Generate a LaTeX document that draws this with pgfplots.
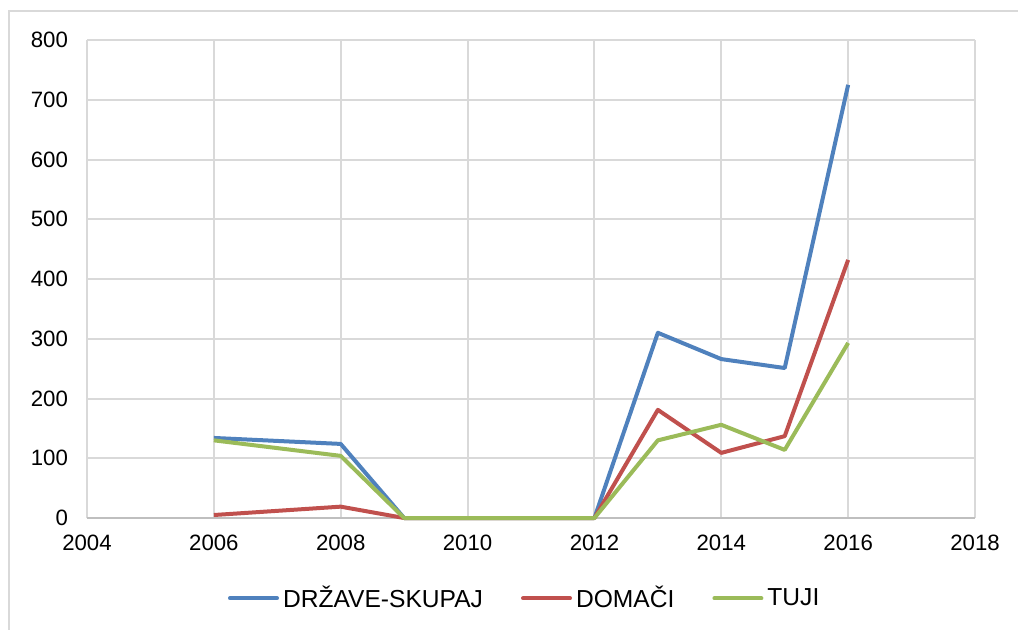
\documentclass[border=0pt]{standalone}
\usepackage{fontspec}
\setmainfont{Liberation Sans}
\usepackage{pgfplots}
\pgfplotsset{compat=1.18}
\definecolor{cblue}{HTML}{4F81BD}
\definecolor{cred}{HTML}{C0504D}
\definecolor{cgreen}{HTML}{9BBB59}
\definecolor{cgrid}{HTML}{D9D9D9}
\definecolor{caxis}{HTML}{BFBFBF}
\begin{document}
\begin{tikzpicture}[x=1pt,y=1pt]
\useasboundingbox (0,0) rectangle (509,314.5);
\draw[cgrid, line width=1pt] (4.5,-2) -- (4.5,309) -- (512,309);
\begin{axis}[
  at={(43.5pt,55.5pt)}, anchor=south west,
  scale only axis, width=444pt, height=239pt,
  xmin=2004, xmax=2018, ymin=0, ymax=800,
  xtick={2004,2006,...,2018}, ytick={0,100,...,800},
  grid=major,
  major grid style={cgrid, line width=1pt},
  axis line style={draw=none},
  tick style={draw=none},
  every tick label/.append style={font=\fontsize{11.1pt}{13pt}\selectfont, text=black},
  xticklabel style={yshift=-5pt},
  yticklabel style={xshift=-6pt},
  /pgf/number format/1000 sep={},
  /pgf/number format/assume math mode=true,
  legend columns=3,
  legend style={draw=none, fill=none, at={(0.494,-0.168)}, anchor=center,
    font=\fontsize{12.3pt}{14pt}\selectfont,
    /tikz/every even column/.append style={column sep=17pt}},
  legend image code/.code={\draw[#1, line cap=round] (0pt,0pt) -- (23.5pt,0pt);},
  clip=false,
]
\draw[caxis, line width=1pt] (axis cs:2004,0) -- (axis cs:2018,0);
\addplot[cblue, line width=2pt, line join=round] coordinates {
(2006,134) (2008,124) (2009,0) (2010,0) (2011,0) (2012,0) (2013,310) (2014,266) (2015,251) (2016,725)};
\addlegendentry{DRŽAVE-SKUPAJ}
\addplot[cred, line width=2pt, line join=round] coordinates {
(2006,5) (2008,19) (2009,0) (2010,0) (2011,0) (2012,0) (2013,181) (2014,109) (2015,137) (2016,432)};
\addlegendentry{DOMAČI}
\addplot[cgreen, line width=2pt, line join=round] coordinates {
(2006,130) (2008,104) (2009,0) (2010,0) (2011,0) (2012,0) (2013,130) (2014,156) (2015,114) (2016,293)};
\addlegendentry{TUJI}
\end{axis}
\end{tikzpicture}
\end{document}
